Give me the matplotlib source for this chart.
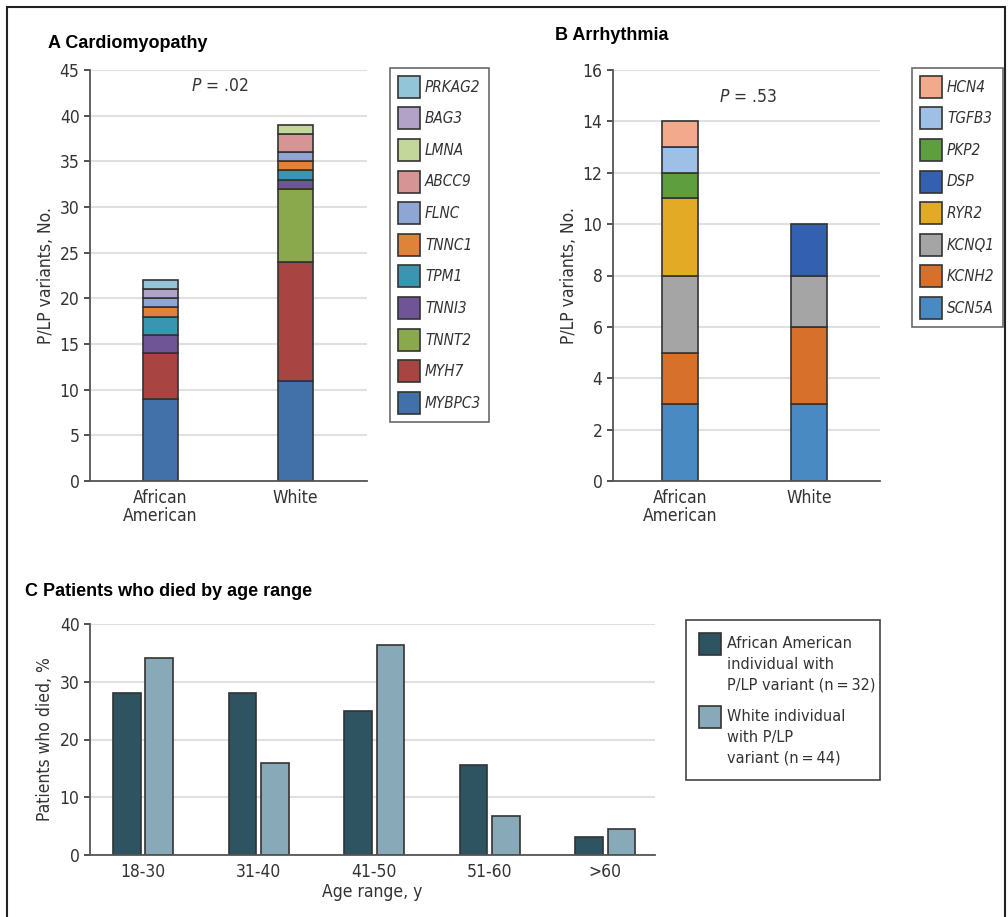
import matplotlib
matplotlib.use('Agg')
import matplotlib.pyplot as plt
from matplotlib.patches import Rectangle, Patch
from matplotlib import font_manager
import numpy as np

fonts = font_manager.fontManager.ttflist
condensed = [f.name for f in fonts if f.stretch in ('condensed', 'semi-condensed', 'extra-condensed')
             or 'Narrow' in f.name or 'Condensed' in f.name]
if condensed:
    body = condensed[0]
    stretch = 'condensed'
    fs = 1.0
else:
    body = 'Roboto'
    stretch = 'normal'
    fs = 0.9
plt.rcParams['font.family'] = [body, 'DejaVu Sans']
plt.rcParams['font.stretch'] = stretch
plt.rcParams['mathtext.fontset'] = 'custom'
plt.rcParams['mathtext.it'] = body + ':italic'
plt.rcParams['mathtext.rm'] = body

# Panel A: cardiomyopathy genes (bottom -> top)
groups = ['African\nAmerican', 'White']
cm_genes = ['MYBPC3', 'MYH7', 'TNNT2', 'TNNI3', 'TPM1', 'TNNC1', 'FLNC', 'ABCC9', 'LMNA', 'BAG3', 'PRKAG2']
cm_aa = [9, 5, 0, 2, 2, 1, 1, 0, 0, 1, 1]
cm_white = [11, 13, 8, 1, 1, 1, 1, 2, 1, 0, 0]
cm_colors = ['#4270a8', '#a84442', '#8aa84c', '#6f5596', '#3a96b0', '#e0823a',
             '#8fa6d4', '#d69495', '#c3d79b', '#b2a2c8', '#93c5d8']

# Panel B: arrhythmia genes (bottom -> top)
ar_genes = ['SCN5A', 'KCNH2', 'KCNQ1', 'RYR2', 'DSP', 'PKP2', 'TGFB3', 'HCN4']
ar_aa = [3, 2, 3, 3, 0, 1, 1, 1]
ar_white = [3, 3, 2, 0, 2, 0, 0, 0]
ar_colors = ['#4a8ac2', '#d6702a', '#a5a5a5', '#e2aa25', '#3360b0', '#5e9e3e', '#9ec0e6', '#f3a98c']
ar_legend_order = ['HCN4', 'TGFB3', 'PKP2', 'DSP', 'RYR2', 'KCNQ1', 'KCNH2', 'SCN5A']

# Panel C: patients who died by age range
age_ranges = ['18-30', '31-40', '41-50', '51-60', '>60']
died_aa = [28.1, 28.1, 25.0, 15.6, 3.1]
died_white = [34.1, 15.9, 36.4, 6.8, 4.5]
c_labels = ['African American\nindividual with\nP/LP variant (n\u2009=\u200932)',
            'White individual\nwith P/LP\nvariant (n\u2009=\u200944)']
c_colors = ['#2d5460', '#87a9b8']

W, H = 1008, 917
fig = plt.figure(figsize=(W / 100, H / 100), dpi=100)

edge = '#333333'
txt = '#333333'
tick_size = 12.5 * fs
lab_size = 12.5 * fs
leg_size = 11 * fs


def style_axes(ax):
    for s in ['top', 'right']:
        ax.spines[s].set_visible(False)
    for s in ['left', 'bottom']:
        ax.spines[s].set_color('#555555')
        ax.spines[s].set_linewidth(1.3)
    ax.yaxis.grid(True, color='#e0e0e0', lw=1.5)
    ax.set_axisbelow(True)
    ax.tick_params(axis='x', length=0, labelsize=tick_size, colors=txt, pad=6)
    ax.tick_params(axis='y', length=4, width=1.2, labelsize=tick_size, colors=txt)


def stacked(ax, vals_list, colors, width):
    for xi, vals in enumerate(vals_list):
        bottom = 0
        for v, c in zip(vals, colors):
            if v > 0:
                ax.bar(xi, v, width, bottom=bottom, color=c, edgecolor=edge, lw=1.2)
            bottom += v


def gene_legend(handles, labels, x, y):
    leg = fig.legend(handles, labels, loc='upper left', bbox_to_anchor=(x / W, 1 - y / H),
                     borderaxespad=0, frameon=True, fancybox=False, edgecolor='#444444',
                     handlelength=1.44, handleheight=1.84, labelspacing=0.63,
                     borderpad=0.5, handletextpad=0.35,
                     prop={'family': [body, 'DejaVu Sans'], 'style': 'italic', 'size': leg_size,
                           'stretch': stretch})
    leg.get_frame().set_linewidth(1.2)
    for t in leg.get_texts():
        t.set_color(txt)
    return leg


# Panel A
axA = fig.add_axes([90 / W, 1 - 481 / H, 277 / W, 411 / H])
stacked(axA, [cm_aa, cm_white], cm_colors, 0.26)
axA.set_xlim(-0.52, 1.53)
axA.set_ylim(0, 45)
axA.set_yticks(np.arange(0, 46, 5))
axA.set_xticks([0, 1])
axA.set_xticklabels(groups, linespacing=0.95)
axA.set_ylabel('P/LP variants, No.', fontsize=lab_size, color=txt, labelpad=3)
style_axes(axA)
axA.text(0.44, 43.3, r'$P$ = .02', fontsize=tick_size, color=txt, ha='center', va='center')
fig.text(48 / W, 1 - 44 / H, 'A Cardiomyopathy', fontsize=13, fontweight='bold',
         family='Liberation Sans', stretch='normal', va='center')
hA = [Patch(facecolor=c, edgecolor=edge, lw=1.2) for c in cm_colors][::-1]
gene_legend(hA, cm_genes[::-1], 390, 68)

# Panel B
axB = fig.add_axes([613 / W, 1 - 481 / H, 267 / W, 411 / H])
stacked(axB, [ar_aa, ar_white], ar_colors, 0.28)
axB.set_xlim(-0.52, 1.55)
axB.set_ylim(0, 16)
axB.set_yticks(np.arange(0, 17, 2))
axB.set_xticks([0, 1])
axB.set_xticklabels(groups, linespacing=0.95)
axB.set_ylabel('P/LP variants, No.', fontsize=lab_size, color=txt, labelpad=3)
style_axes(axB)
axB.text(0.53, 14.95, r'$P$ = .53', fontsize=tick_size, color=txt, ha='center', va='center')
fig.text(555 / W, 1 - 36 / H, 'B Arrhythmia', fontsize=13, fontweight='bold',
         family='Liberation Sans', stretch='normal', va='center')
hB = {g: Patch(facecolor=c, edgecolor=edge, lw=1.2) for g, c in zip(ar_genes, ar_colors)}
gene_legend([hB[g] for g in ar_legend_order], ar_legend_order, 912, 68)

# Panel C
axC = fig.add_axes([90 / W, 1 - 855 / H, 565 / W, 231 / H])
x = np.arange(len(age_ranges))
axC.bar(x - 0.14, died_aa, 0.24, color=c_colors[0], edgecolor=edge, lw=1.2)
axC.bar(x + 0.14, died_white, 0.24, color=c_colors[1], edgecolor=edge, lw=1.2)
axC.set_xlim(-0.46, 4.43)
axC.set_ylim(0, 40)
axC.set_yticks(np.arange(0, 41, 10))
axC.set_xticks(x)
axC.set_xticklabels(age_ranges)
axC.set_xlabel('Age range, y', fontsize=lab_size, color=txt, labelpad=1)
axC.set_ylabel('Patients who died, %', fontsize=lab_size, color=txt, labelpad=4)
style_axes(axC)
fig.text(25 / W, 1 - 592 / H, 'C Patients who died by age range', fontsize=13, fontweight='bold',
         family='Liberation Sans', stretch='normal', va='center')

# legend C drawn by hand so the swatch sits at the first text line
fig.add_artist(Rectangle((686 / W, 1 - 780 / H), 194 / W, 160 / H, transform=fig.transFigure,
                         fill=False, edgecolor='#444444', lw=1.2))
for i, (lab, col) in enumerate(zip(c_labels, c_colors)):
    top = 633 + i * 73
    fig.add_artist(Rectangle((699 / W, 1 - (top + 22) / H), 22 / W, 22 / H, transform=fig.transFigure,
                             facecolor=col, edgecolor=edge, lw=1.2))
    fig.text(727 / W, 1 - (top + 3) / H, lab, fontsize=11.6 * fs, color=txt, va='top', ha='left',
             linespacing=1.48)

# outer frame
fig.add_artist(Rectangle((7 / W, -0.01), 998 / W, 1 - 7 / H + 0.01, transform=fig.transFigure,
                         fill=False, edgecolor='#222222', lw=1.5))

fig.savefig('out.png', dpi=100)
